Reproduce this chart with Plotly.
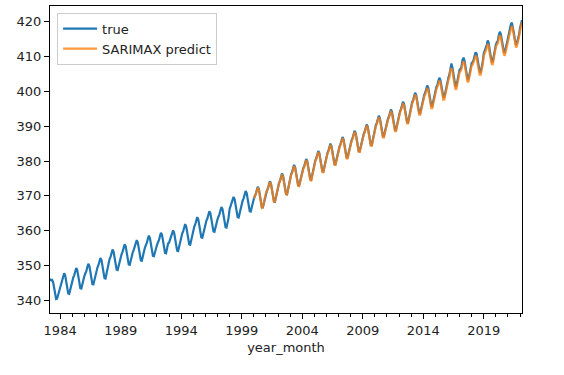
import pandas as pd
import plotly.graph_objects as go

# ---------------- data ----------------
true_start = "1983-03"
true_co2 = [
    346.2, 345.8, 345.9, 345.3, 343.8, 341.9, 340.4, 340.5, 341.6, 343.0,  # 1983 (Mar-Dec)
    344.3, 345.1, 345.7, 346.9, 347.8, 347.2, 345.5, 343.5, 342.0, 341.9, 343.3, 344.7,  # 1984
    345.8, 346.6, 347.2, 348.4, 349.3, 348.7, 347.0, 345.0, 343.5, 343.4, 344.8, 346.2,  # 1985
    347.0, 347.8, 348.4, 349.6, 350.5, 349.9, 348.2, 346.2, 344.7, 344.6, 346.0, 347.4,  # 1986
    348.7, 349.5, 350.1, 351.3, 352.2, 351.6, 349.9, 347.9, 346.4, 346.3, 347.7, 349.1,  # 1987
    351.1, 351.9, 352.5, 353.7, 354.6, 354.0, 352.3, 350.3, 348.8, 348.7, 350.1, 351.5,  # 1988
    352.6, 353.4, 354.0, 355.2, 356.1, 355.5, 353.8, 351.8, 350.3, 350.2, 351.6, 353.0,  # 1989
    353.8, 354.6, 355.2, 356.4, 357.3, 356.7, 355.0, 353.0, 351.5, 351.4, 352.8, 354.2,  # 1990
    355.1, 355.9, 356.5, 357.7, 358.6, 358.0, 356.3, 354.3, 352.8, 352.7, 354.1, 355.5,  # 1991
    355.9, 356.7, 357.3, 358.5, 359.4, 358.8, 357.1, 355.1, 353.6, 353.5, 354.9, 356.3,  # 1992
    356.6, 357.4, 358.0, 359.2, 360.1, 359.5, 357.8, 355.8, 354.3, 354.2, 355.6, 357.0,  # 1993
    358.4, 359.2, 359.8, 361.0, 361.9, 361.3, 359.6, 357.6, 356.1, 356.0, 357.4, 358.8,  # 1994
    360.4, 361.2, 361.8, 363.0, 363.9, 363.3, 361.6, 359.6, 358.1, 358.0, 359.4, 360.8,  # 1995
    362.1, 362.9, 363.5, 364.7, 365.6, 365.0, 363.3, 361.3, 359.8, 359.7, 361.1, 362.5,  # 1996
    363.3, 364.1, 364.7, 365.9, 366.8, 366.2, 364.5, 362.5, 361.0, 360.9, 362.3, 363.7,  # 1997
    366.2, 367.0, 367.6, 368.8, 369.7, 369.1, 367.4, 365.4, 363.9, 363.8, 365.2, 366.6,  # 1998
    367.9, 368.7, 369.3, 370.5, 371.4, 370.8, 369.1, 367.1, 365.6, 365.5, 366.9, 368.3,  # 1999
    369.1, 369.9, 370.5, 371.7, 372.6, 372.0, 370.3, 368.3, 366.8, 366.7, 368.1, 369.5,  # 2000
    370.7, 371.5, 372.1, 373.3, 374.2, 373.6, 371.9, 369.9, 368.4, 368.3, 369.7, 371.1,  # 2001
    372.9, 373.7, 374.3, 375.5, 376.4, 375.8, 374.1, 372.1, 370.6, 370.5, 371.9, 373.3,  # 2002
    375.4, 376.2, 376.8, 378.0, 378.9, 378.3, 376.6, 374.6, 373.1, 373.0, 374.4, 375.8,  # 2003
    377.1, 377.9, 378.5, 379.7, 380.6, 380.0, 378.3, 376.3, 374.8, 374.7, 376.1, 377.5,  # 2004
    379.4, 380.2, 380.8, 382.0, 382.9, 382.3, 380.6, 378.6, 377.1, 377.0, 378.4, 379.8,  # 2005
    381.5, 382.3, 382.9, 384.1, 385.0, 384.4, 382.7, 380.7, 379.2, 379.1, 380.5, 381.9,  # 2006
    383.4, 384.2, 384.8, 386.0, 386.9, 386.3, 384.6, 382.6, 381.1, 381.0, 382.4, 383.8,  # 2007
    385.2, 386.0, 386.6, 387.8, 388.7, 388.1, 386.4, 384.4, 382.9, 382.8, 384.2, 385.6,  # 2008
    387.0, 387.8, 388.4, 389.6, 390.5, 389.9, 388.2, 386.2, 384.7, 384.6, 386.0, 387.4,  # 2009
    389.5, 390.3, 390.9, 392.1, 393.0, 392.4, 390.7, 388.7, 387.2, 387.1, 388.5, 389.9,  # 2010
    391.3, 392.1, 392.7, 393.9, 394.8, 394.2, 392.5, 390.5, 389.0, 388.9, 390.3, 391.7,  # 2011
    393.5, 394.3, 394.9, 396.1, 397.0, 396.4, 394.7, 392.7, 391.2, 391.1, 392.5, 393.9,  # 2012
    396.1, 396.9, 397.5, 398.7, 399.6, 399.0, 397.3, 395.3, 393.8, 393.7, 395.1, 396.5,  # 2013
    398.2, 399.0, 399.6, 400.8, 401.7, 401.1, 399.4, 397.4, 395.9, 395.8, 397.2, 398.6,  # 2014
    400.4, 401.2, 401.8, 403.0, 403.9, 403.3, 401.6, 399.6, 398.3, 398.4, 400.1, 401.7,  # 2015
    402.5, 404.0, 404.8, 407.4, 408.0, 406.8, 404.6, 402.7, 401.3, 401.6, 403.6, 404.6,  # 2016
    406.2, 406.5, 407.2, 409.0, 409.7, 408.8, 407.0, 405.0, 403.3, 403.6, 405.2, 406.6,  # 2017
    408.1, 408.4, 409.0, 410.2, 411.2, 410.8, 408.7, 407.0, 405.6, 405.5, 406.9, 408.4,  # 2018
    410.9, 411.8, 412.0, 413.3, 414.6, 413.9, 411.7, 410.0, 408.5, 408.5, 410.3, 411.8,  # 2019
    413.4, 414.1, 414.5, 416.2, 417.1, 416.4, 414.4, 412.5, 411.3, 411.2, 412.7, 414.0,  # 2020
    415.2, 416.4, 417.6, 419.3, 419.7, 418.5, 416.6, 414.7, 413.3, 413.9, 414.9, 416.3,  # 2021
    418.2, 419.3, 420.5,  # 2022 (Jan-Mar)
]

pred_start = "2000-01"
pred_co2 = [
    369.3, 369.8, 370.6, 371.5, 372.4, 371.9, 370.2, 368.1, 366.6, 366.8, 368.3, 369.4,  # 2000
    370.8, 371.4, 372.2, 373.1, 374.0, 373.5, 371.8, 369.8, 368.3, 368.4, 369.8, 371.0,  # 2001
    372.7, 373.6, 374.2, 375.3, 376.1, 375.6, 374.0, 372.0, 370.4, 370.4, 371.8, 373.2,  # 2002
    375.1, 376.0, 376.6, 377.7, 378.6, 378.0, 376.4, 374.4, 372.9, 372.8, 374.2, 375.6,  # 2003
    376.9, 377.7, 378.3, 379.4, 380.3, 379.7, 378.0, 376.0, 374.5, 374.4, 375.9, 377.3,  # 2004
    379.2, 380.0, 380.6, 381.7, 382.6, 382.0, 380.3, 378.3, 376.8, 376.8, 378.2, 379.6,  # 2005
    381.3, 382.1, 382.7, 383.8, 384.7, 384.1, 382.4, 380.4, 378.9, 378.9, 380.3, 381.7,  # 2006
    383.2, 384.0, 384.6, 385.7, 386.6, 386.0, 384.3, 382.3, 380.8, 380.8, 382.2, 383.6,  # 2007
    385.0, 385.8, 386.4, 387.5, 388.4, 387.8, 386.1, 384.1, 382.6, 382.6, 384.0, 385.4,  # 2008
    386.8, 387.6, 388.2, 389.3, 390.2, 389.6, 387.9, 385.9, 384.4, 384.4, 385.8, 387.2,  # 2009
    389.2, 390.0, 390.6, 391.7, 392.6, 392.0, 390.3, 388.3, 386.8, 386.8, 388.2, 389.6,  # 2010
    391.0, 391.8, 392.4, 393.5, 394.4, 393.8, 392.1, 390.1, 388.6, 388.6, 390.0, 391.4,  # 2011
    393.2, 394.0, 394.6, 395.7, 396.6, 396.0, 394.3, 392.3, 390.8, 390.8, 392.2, 393.6,  # 2012
    395.7, 396.5, 397.1, 398.2, 399.1, 398.5, 396.8, 394.8, 393.3, 393.3, 394.7, 396.1,  # 2013
    397.7, 398.5, 399.1, 400.1, 401.0, 400.4, 398.8, 396.8, 395.2, 395.2, 396.6, 398.0,  # 2014
    399.9, 400.6, 401.2, 402.2, 403.1, 402.5, 400.9, 398.9, 397.6, 397.7, 399.4, 401.0,  # 2015
    402.0, 403.3, 404.0, 406.2, 406.6, 405.9, 403.8, 401.9, 400.5, 400.8, 402.8, 403.8,  # 2016
    405.5, 405.8, 406.4, 408.0, 408.7, 407.9, 406.2, 404.2, 402.6, 402.9, 404.5, 405.9,  # 2017
    407.4, 407.7, 408.3, 409.3, 410.3, 409.9, 407.9, 406.2, 404.8, 404.8, 406.2, 407.7,  # 2018
    410.2, 411.0, 411.3, 412.4, 413.7, 413.0, 410.9, 409.2, 407.8, 407.8, 409.6, 411.0,  # 2019
    412.7, 413.4, 413.8, 415.2, 416.2, 415.5, 413.6, 411.7, 410.5, 410.4, 412.0, 413.3,  # 2020
    414.5, 415.6, 416.8, 418.3, 418.8, 417.7, 415.8, 413.9, 412.6, 413.1, 414.2, 415.6,  # 2021
    417.5, 418.6, 419.8,  # 2022 (Jan-Mar)
]

x_tick_labels = ["1984", "1989", "1994", "1999", "2004", "2009", "2014", "2019"]
y_tick_values = [340, 350, 360, 370, 380, 390, 400, 410, 420]
series_names = ["true", "SARIMAX predict"]
x_title = "year_month"

# ---------------- build ----------------
true_dates = pd.period_range(true_start, periods=len(true_co2), freq="M").to_timestamp()
pred_dates = pd.period_range(pred_start, periods=len(pred_co2), freq="M").to_timestamp()
tick_dates = [pd.Timestamp(f"{y}-01-01") for y in x_tick_labels]

all_vals = true_co2 + pred_co2
vmin, vmax = min(all_vals), max(all_vals)
pad = (vmax - vmin) * 0.05

FONT = "DejaVu Sans"
TXT = "#222222"

fig = go.Figure()
fig.add_trace(go.Scatter(
    x=true_dates, y=true_co2, mode="lines", name=series_names[0],
    line=dict(color="#1f77b4", width=2.2),
))
fig.add_trace(go.Scatter(
    x=pred_dates, y=pred_co2, mode="lines", name=series_names[1],
    line=dict(color="#ff7f0e", width=2.2), opacity=0.8,
))

fig.update_layout(
    width=564, height=375,
    margin=dict(l=50, r=42, t=6, b=62),
    paper_bgcolor="white", plot_bgcolor="white",
    font=dict(family=FONT, size=13, color=TXT),
    showlegend=True,
    legend=dict(
        x=0.015, y=0.978, xanchor="left", yanchor="top",
        bgcolor="rgba(255,255,255,0.8)", bordercolor="#cccccc", borderwidth=1,
        font=dict(family=FONT, size=13, color=TXT),
        itemwidth=34,
    ),
    xaxis=dict(
        range=[true_dates[0], true_dates[-1]],
        tickmode="array", tickvals=tick_dates, ticktext=x_tick_labels,
        ticks="outside", ticklen=5, tickwidth=1, tickcolor="black",
        showline=True, linecolor="black", linewidth=1, mirror=True,
        showgrid=False, zeroline=False,
        minor=dict(ticks="outside", ticklen=3, tickwidth=1, tickcolor="black",
                   dtick="M12", tick0="1984-01-01", showgrid=False),
        title=dict(text=x_title, standoff=6, font=dict(size=13, color=TXT)),
        tickfont=dict(size=13, color=TXT),
    ),
    yaxis=dict(
        range=[vmin - pad, vmax + pad],
        tickmode="array", tickvals=y_tick_values,
        ticks="outside", ticklen=5, tickwidth=1, tickcolor="black",
        showline=True, linecolor="black", linewidth=1, mirror=True,
        showgrid=False, zeroline=False,
        tickfont=dict(size=13, color=TXT),
    ),
)

fig.write_html(
    "out.html",
    config={"displayModeBar": False},
    post_script="document.body.style.margin='0';document.body.style.overflow='hidden';",
)
